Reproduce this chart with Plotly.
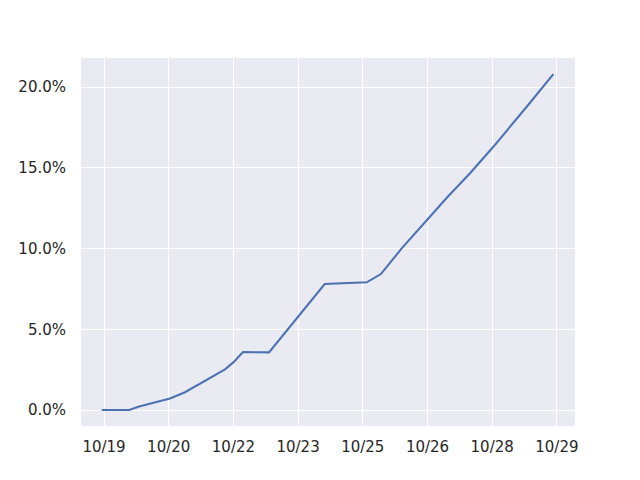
import plotly.graph_objects as go

# data
timestamps = [
    "2020-10-18 22:44", "2020-10-19 14:05", "2020-10-19 19:05", "2020-10-20 04:23",
    "2020-10-20 12:43", "2020-10-20 21:04", "2020-10-21 10:02", "2020-10-21 19:20",
    "2020-10-21 23:57", "2020-10-22 05:21", "2020-10-22 19:49", "2020-10-24 02:48",
    "2020-10-25 02:11", "2020-10-25 10:05", "2020-10-25 21:39", "2020-10-26 11:34",
    "2020-10-26 22:52", "2020-10-27 11:40", "2020-10-28 00:38", "2020-10-28 19:13",
    "2020-10-29 10:02",
]
values = [
    0.0000, 0.0000, 0.0020, 0.0048, 0.0072, 0.0110, 0.0190, 0.0252,
    0.0295, 0.0359, 0.0357, 0.0780, 0.0791, 0.0842, 0.1001, 0.1176,
    0.1316, 0.1466, 0.1630, 0.1878, 0.2080,
]

tick_start = "2020-10-19"
tick_step_ms = 36 * 3600 * 1000
x_range = ["2020-10-18 11:12", "2020-10-29 22:05"]
y_range = [-0.0099, 0.218]
y_ticks = [0.0, 0.05, 0.10, 0.15, 0.20]

fig = go.Figure(
    go.Scatter(
        x=timestamps, y=values, mode="lines",
        line=dict(color="#4C72B0", width=2.1),
        hoverinfo="skip",
    )
)

font = dict(family="DejaVu Sans", size=15, color="#262626")

fig.update_layout(
    width=640, height=480,
    margin=dict(l=73, r=73, t=50, b=62),
    paper_bgcolor="white",
    plot_bgcolor="#EAEAF2",
    showlegend=False,
    font=font,
)
fig.update_xaxes(
    type="date", range=x_range, automargin=False,
    tick0=tick_start, dtick=tick_step_ms, tickformat="%m/%d",
    showgrid=True, gridcolor="white", gridwidth=1.3,
    zeroline=False, showline=False, ticks="",
    ticklabelstandoff=10, tickfont=font,
)
fig.update_yaxes(
    range=y_range, tickvals=y_ticks, tickformat=".1%", automargin=False,
    showgrid=True, gridcolor="white", gridwidth=1.3,
    zeroline=False, showline=False, ticks="",
    ticklabelstandoff=14, tickfont=font,
)

fig.write_html("out.html")
